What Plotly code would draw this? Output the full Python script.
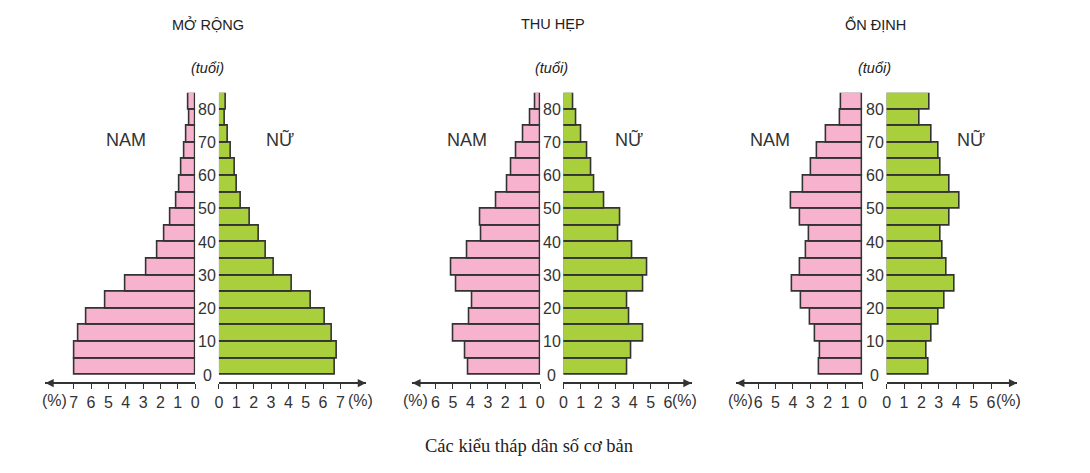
import plotly.graph_objects as go

W, H = 1090, 473
OFF = 8  # default body margin of the html page

AGE_GROUPS = list(range(0, 85, 5))
AGE_LABELS = [0, 10, 20, 30, 40, 50, 60, 70, 80]

# values (%) per age group, from 0-4 up to 80+
MO_RONG_NAM = [6.95, 6.95, 6.7, 6.25, 5.2, 4.0, 2.8, 2.2, 1.75, 1.43, 1.1, 0.91, 0.78, 0.6, 0.5, 0.32, 0.4]
MO_RONG_NU = [6.7, 6.8, 6.5, 6.1, 5.3, 4.2, 3.18, 2.68, 2.28, 1.77, 1.29, 1.05, 0.93, 0.72, 0.51, 0.32, 0.42]
THU_HEP_NAM = [4.1, 4.28, 4.96, 4.05, 3.88, 4.8, 5.08, 4.15, 3.35, 3.41, 2.5, 1.89, 1.65, 1.38, 0.95, 0.57, 0.3]
THU_HEP_NU = [3.68, 3.91, 4.57, 3.76, 3.68, 4.57, 4.8, 3.98, 3.15, 3.24, 2.35, 1.76, 1.59, 1.39, 1.04, 0.72, 0.57]
ON_DINH_NAM = [2.5, 2.44, 2.72, 3.0, 3.5, 4.04, 3.6, 3.26, 3.09, 3.6, 4.08, 3.41, 2.95, 2.63, 2.1, 1.3, 1.22]
ON_DINH_NU = [2.41, 2.31, 2.56, 2.96, 3.36, 3.93, 3.45, 3.23, 3.09, 3.6, 4.17, 3.6, 3.09, 2.96, 2.56, 1.92, 2.47]

TITLES = ["MỞ RỘNG", "THU HẸP", "ỔN ĐỊNH"]
TICKS = [list(range(0, 8)), list(range(0, 7)), list(range(0, 7))]

PINK = "#F7B2CE"
GREEN = "#A9D03C"
EDGE = "#333333"
TXT = "#333333"
FONT = "Liberation Sans, Arial, sans-serif"

# pixel geometry of each panel (window pixels)
PANELS = [
    dict(l_end=41.7, l0=192.7, r0=216.7, r_end=365.0, unit=17.5,
         nam=122.5, nu=278, pct_l=51, pct_r=359.5),
    dict(l_end=411.7, l0=540.7, r0=564.0, r_end=693.3, unit=17.6,
         nam=467, nu=630, pct_l=414.5, pct_r=686),
    dict(l_end=738.3, l0=865.7, r0=890.0, r_end=1021.7, unit=17.55,
         nam=772, nu=975, pct_l=742.5, pct_r=1012.5),
]

AXIS_Y = 383
BAR_BOTTOM, BAR_TOP = 375.0, 92.7

FW, FH = W - 2 * OFF, H - 2 * OFF


def py(px):
    return (H - OFF - px) / FH


def px_x(px):
    return (px - OFF) / FW


def label(x, y, text, size, color=TXT, family=FONT, yref="paper"):
    return dict(x=x, y=y, xref="paper", yref=yref, text=text, showarrow=False,
                xanchor="center", yanchor="middle",
                font=dict(family=family, size=size, color=color))


fig = go.Figure()
layout = {}
annotations = []

series = [(MO_RONG_NAM, MO_RONG_NU), (THU_HEP_NAM, THU_HEP_NU), (ON_DINH_NAM, ON_DINH_NU)]

for i, (p, (nam, nu)) in enumerate(zip(PANELS, series)):
    xl = 2 * i + 1
    xr = 2 * i + 2
    for ax_num, vals, color in [(xl, nam, PINK), (xr, nu, GREEN)]:
        fig.add_trace(
            go.Bar(
                x=vals,
                y=AGE_GROUPS,
                orientation="h",
                width=5,
                offset=0,
                marker=dict(color=color, line=dict(color=EDGE, width=1.6)),
                xaxis="x" if ax_num == 1 else f"x{ax_num}",
                yaxis="y",
                showlegend=False,
                hoverinfo="x+y",
            )
        )

    common = dict(
        anchor="free",
        position=py(AXIS_Y),
        showline=True,
        linecolor=EDGE,
        linewidth=1.5,
        ticks="outside",
        ticklen=5,
        tickwidth=1.2,
        tickcolor=EDGE,
        tickvals=TICKS[i],
        tickfont=dict(family=FONT, size=16, color=TXT),
        showgrid=False,
        zeroline=False,
        fixedrange=True,
    )
    layout["xaxis" if xl == 1 else f"xaxis{xl}"] = dict(
        common,
        domain=[px_x(p["l_end"]), px_x(p["l0"])],
        range=[(p["l0"] - p["l_end"]) / p["unit"], 0],
    )
    layout[f"xaxis{xr}"] = dict(
        common,
        domain=[px_x(p["r0"]), px_x(p["r_end"])],
        range=[0, (p["r_end"] - p["r0"]) / p["unit"]],
    )

    # arrowheads
    for tip, tail_off in [(p["l_end"], 12), (p["r_end"], -12)]:
        annotations.append(dict(
            x=px_x(tip), y=py(AXIS_Y), xref="paper", yref="paper",
            ax=tail_off, ay=0, text="", showarrow=True,
            arrowhead=2, arrowsize=1.1, arrowwidth=1.5, arrowcolor=EDGE,
        ))

    center = (p["l0"] + p["r0"]) / 2
    annotations.append(label(px_x(p["pct_l"]), py(400), "(%)", 16))
    annotations.append(label(px_x(p["pct_r"]), py(400), "(%)", 16))
    for a in AGE_LABELS:
        annotations.append(label(px_x(center), a, str(a), 16, yref="y"))
    annotations.append(label(px_x(center + 1), py(24), TITLES[i], 14.5, color="#222222"))
    annotations.append(label(px_x(center), py(68), "<i>(tuổi)</i>", 14.5, color="#222222"))
    annotations.append(label(px_x(p["nam"]), py(140), "NAM", 18))
    annotations.append(label(px_x(p["nu"]), py(140), "NỮ", 18))

annotations.append(label(px_x(529), py(446), "Các kiểu tháp dân số cơ bản", 18.5,
                         color="#222222", family="Liberation Serif, Times New Roman, serif"))

layout["yaxis"] = dict(
    domain=[py(BAR_BOTTOM), py(BAR_TOP)],
    range=[0, 85],
    visible=False,
    fixedrange=True,
)

fig.update_layout(
    **layout,
    annotations=annotations,
    width=FW,
    height=FH,
    margin=dict(l=0, r=0, t=0, b=0),
    paper_bgcolor="white",
    plot_bgcolor="white",
    bargap=0,
    showlegend=False,
)

fig.write_html("out.html")
